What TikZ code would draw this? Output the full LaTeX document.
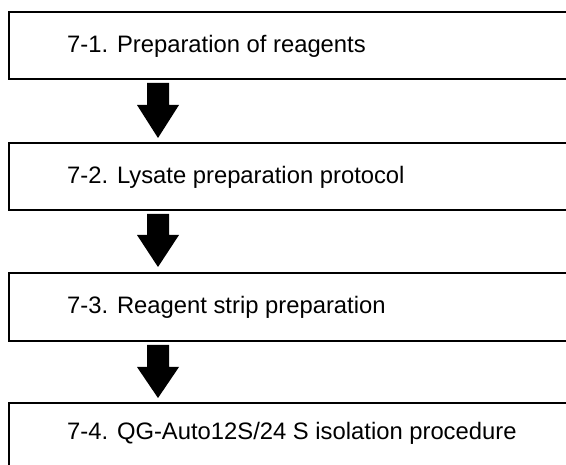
\documentclass[tikz,border=0pt]{standalone}
\usepackage{fontspec}
\setmainfont{Liberation Sans}
\begin{document}
\begin{tikzpicture}[x=1pt,y=1pt,
  stepbox/.style={draw=black, line width=1.6pt, fill=white, minimum width=580pt, inner sep=0pt, anchor=north west},
  lbl/.style={anchor=base west, inner sep=0pt, font=\fontsize{23.8}{28}\selectfont},
  bigarrow/.style={fill=black}]
\useasboundingbox (0,0) rectangle (566,-465);
\clip (0,0) rectangle (566,-465);
\node[stepbox, minimum height=67pt] (b1) at (8,-11) {};
\node[stepbox, minimum height=67pt] (b2) at (8,-142) {};
\node[stepbox, minimum height=68pt] (b3) at (8,-272) {};
\node[stepbox, minimum height=80pt] (b4) at (8,-402) {};
\node[lbl] (t1) at (67,-53) {7-1. Preparation of reagents};
\node[lbl] (t2) at (67,-184) {7-2. Lysate preparation protocol};
\node[lbl] (t3) at (67,-314) {7-3. Reagent strip preparation};
\node[lbl] (t4) at (67,-440) {7-4. QG-Auto12S/24 S isolation procedure};
\fill[bigarrow] (147,-83) -- (169,-83) -- (169,-105) -- (179,-105) -- (158,-138) -- (137,-105) -- (147,-105) -- cycle;
\fill[bigarrow] (147,-214) -- (169,-214) -- (169,-235) -- (179,-235) -- (158,-267) -- (137,-235) -- (147,-235) -- cycle;
\fill[bigarrow] (147,-345) -- (169,-345) -- (169,-367) -- (179,-367) -- (158,-398) -- (137,-367) -- (147,-367) -- cycle;
\end{tikzpicture}
\end{document}
